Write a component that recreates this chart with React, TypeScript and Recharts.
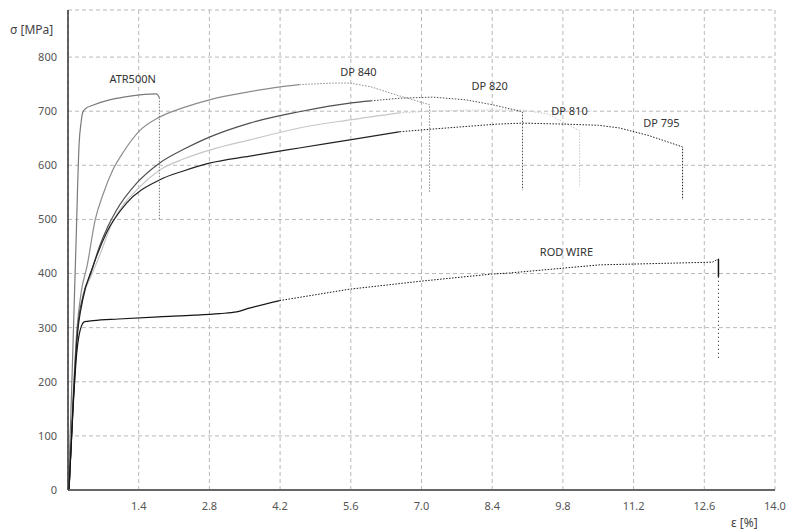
import { LineChart, Line, XAxis, YAxis, CartesianGrid, ReferenceDot } from "recharts";

const xTicks = [1.4, 2.8, 4.2, 5.6, 7.0, 8.4, 9.8, 11.2, 12.6, 14.0];
const yTicks = [0, 100, 200, 300, 400, 500, 600, 700, 800];

// ATR500N
const atrStrain = [0.01, 0.09, 0.16, 0.22, 0.26, 0.29, 0.35, 0.49, 0.82, 1.1, 1.42, 1.75, 1.81];
const atrStress = [0, 240, 460, 640, 680, 697, 705, 711, 721, 726, 730, 732, 725];
const atrTailStrain = [1.81, 1.81];
const atrTailStress = [725, 500];

// DP 840
const dp840Strain = [0.02, 0.1, 0.18, 0.26, 0.38, 0.54, 0.7, 0.88, 1.1, 1.42, 1.81, 2.3, 2.8, 3.6, 4.2, 4.58];
const dp840Stress = [0, 170, 300, 365, 415, 500, 548, 590, 625, 664, 689, 707, 721, 736, 745, 749];
const dp840TailStrain = [4.58, 5.24, 5.58, 6.0, 6.5, 7.16, 7.16];
const dp840TailStress = [749, 752, 752, 745, 730, 712, 549];

// DP 820
const dp820Strain = [0.02, 0.1, 0.18, 0.3, 0.45, 0.62, 0.78, 0.96, 1.36, 1.81, 2.3, 2.8, 3.6, 4.58, 5.58, 6.0];
const dp820Stress = [0, 160, 290, 360, 400, 449, 485, 517, 567, 604, 630, 652, 678, 699, 715, 719];
const dp820TailStrain = [6.0, 6.57, 7.22, 7.88, 8.4, 9.0, 9.0];
const dp820TailStress = [719, 724, 726, 721, 712, 699, 554];

// DP 810
const dp810Strain = [0.02, 0.1, 0.18, 0.3, 0.48, 0.62, 0.86, 1.42, 1.81, 2.3, 2.8, 3.6, 4.58, 5.58, 6.57];
const dp810Stress = [0, 160, 285, 355, 400, 432, 490, 560, 591, 612, 628, 647, 669, 684, 697];
const dp810TailStrain = [6.57, 7.16, 8.0, 9.0, 9.5, 10.13, 10.13];
const dp810TailStress = [697, 700, 702, 702, 695, 664, 560];

// DP 795
const dp795Strain = [0.02, 0.1, 0.18, 0.29, 0.49, 0.76, 1.16, 1.81, 2.3, 2.8, 3.6, 4.58, 5.58, 6.57];
const dp795Stress = [0, 155, 280, 351, 412, 475, 530, 573, 590, 604, 617, 632, 647, 662];
const dp795TailStrain = [6.57, 7.22, 8.48, 9.0, 9.87, 10.5, 10.92, 11.5, 12.17, 12.17];
const dp795TailStress = [662, 667, 676, 678, 676, 674, 669, 655, 634, 536];

// ROD WIRE
const rodStrain = [0.02, 0.1, 0.17, 0.24, 0.33, 0.5, 1.0, 1.81, 2.5, 3.0, 3.34, 3.59, 4.19];
const rodStress = [0, 150, 250, 295, 311, 313, 316, 320, 323, 326, 329, 336, 350];
const rodTailStrain = [4.19, 5.57, 7.0, 8.39, 8.74, 10.52, 12.76, 12.88];
const rodTailStress = [350, 371, 386, 399, 401, 416, 421, 427];
const rodDropStrain = [12.88, 12.88];
const rodDropStress = [427, 394];
const rodDropTailStrain = [12.88, 12.88];
const rodDropTailStress = [394, 240];

const seriesLabels = ["ATR500N", "DP 840", "DP 820", "DP 810", "DP 795", "ROD WIRE"];
const labelStrain = [1.28, 5.75, 8.35, 9.93, 11.75, 9.87];
const labelStress = [760, 773, 747, 700, 678, 440];

const pts = (e: number[], s: number[]) => e.map((x, i) => ({ e: x, s: s[i] }));

const font = "'Noto Sans', 'DejaVu Sans', sans-serif";

const curves = [
  { id: "atr", color: "#7a7a7a", solid: pts(atrStrain, atrStress), tail: pts(atrTailStrain, atrTailStress) },
  { id: "dp840", color: "#8c8c8c", solid: pts(dp840Strain, dp840Stress), tail: pts(dp840TailStrain, dp840TailStress) },
  { id: "dp810", color: "#c6c6c6", solid: pts(dp810Strain, dp810Stress), tail: pts(dp810TailStrain, dp810TailStress) },
  { id: "dp820", color: "#505050", solid: pts(dp820Strain, dp820Stress), tail: pts(dp820TailStrain, dp820TailStress) },
  { id: "dp795", color: "#222222", solid: pts(dp795Strain, dp795Stress), tail: pts(dp795TailStrain, dp795TailStress) },
  { id: "rod", color: "#151515", solid: pts(rodStrain, rodStress), tail: pts(rodTailStrain, rodTailStress) },
];

// chart-level rows so the grid has something to attach to
const gridRows = pts(rodTailStrain, rodTailStress);

export default function App() {
  return (
    <div style={{ position: "absolute", left: 0, top: 0, width: 786, height: 531, background: "#fff", fontFamily: font }}>
      <LineChart width={786} height={531} data={gridRows} margin={{ top: 10, right: 11, bottom: 0, left: 0 }}>
        <CartesianGrid stroke="#b8b8b8" strokeDasharray="4 3" />
        <XAxis
          type="number"
          dataKey="e"
          domain={[0, 14]}
          ticks={xTicks}
          tickFormatter={(v: number) => v.toFixed(1)}
          height={41}
          tickLine={false}
          tickMargin={6}
          axisLine={{ stroke: "#666", strokeWidth: 2 }}
          tick={{ fill: "#555", fontSize: 11, fontFamily: font }}
          allowDataOverflow
        />
        <YAxis
          type="number"
          dataKey="s"
          domain={[0, 887]}
          ticks={yTicks}
          width={68}
          tickLine={false}
          tickMargin={5}
          axisLine={{ stroke: "#333", strokeWidth: 1.5 }}
          tick={{ fill: "#555", fontSize: 11, fontFamily: font }}
          allowDataOverflow
        />
        {curves.map((c) => (
          <Line
            key={c.id + "-solid"}
            data={c.solid}
            dataKey="s"
            type="monotone"
            stroke={c.color}
            strokeWidth={1.2}
            dot={false}
            activeDot={false}
            isAnimationActive={false}
          />
        ))}
        {curves.map((c) => (
          <Line
            key={c.id + "-tail"}
            data={c.tail}
            dataKey="s"
            type="linear"
            stroke={c.color}
            strokeWidth={1}
            strokeDasharray="1.5 1.5"
            dot={false}
            activeDot={false}
            isAnimationActive={false}
          />
        ))}
        <Line
          data={pts(rodDropStrain, rodDropStress)}
          dataKey="s"
          type="linear"
          stroke="#111"
          strokeWidth={1.5}
          dot={false}
          activeDot={false}
          isAnimationActive={false}
        />
        <Line
          data={pts(rodDropTailStrain, rodDropTailStress)}
          dataKey="s"
          type="linear"
          stroke="#111"
          strokeWidth={1}
          strokeDasharray="1 3"
          dot={false}
          activeDot={false}
          isAnimationActive={false}
        />
        {seriesLabels.map((name, i) => (
          <ReferenceDot
            key={name}
            x={labelStrain[i]}
            y={labelStress[i]}
            r={0}
            stroke="none"
            fill="none"
            label={{ value: name, position: "center", fill: "#333", fontSize: 11, fontFamily: font }}
          />
        ))}
      </LineChart>
      <div style={{ position: "absolute", left: 10, top: 23, fontSize: 12, lineHeight: "14px", color: "#444" }}>σ [MPa]</div>
      <div style={{ position: "absolute", left: 731, top: 516, fontSize: 12, lineHeight: "14px", color: "#444" }}>ε [%]</div>
    </div>
  );
}
